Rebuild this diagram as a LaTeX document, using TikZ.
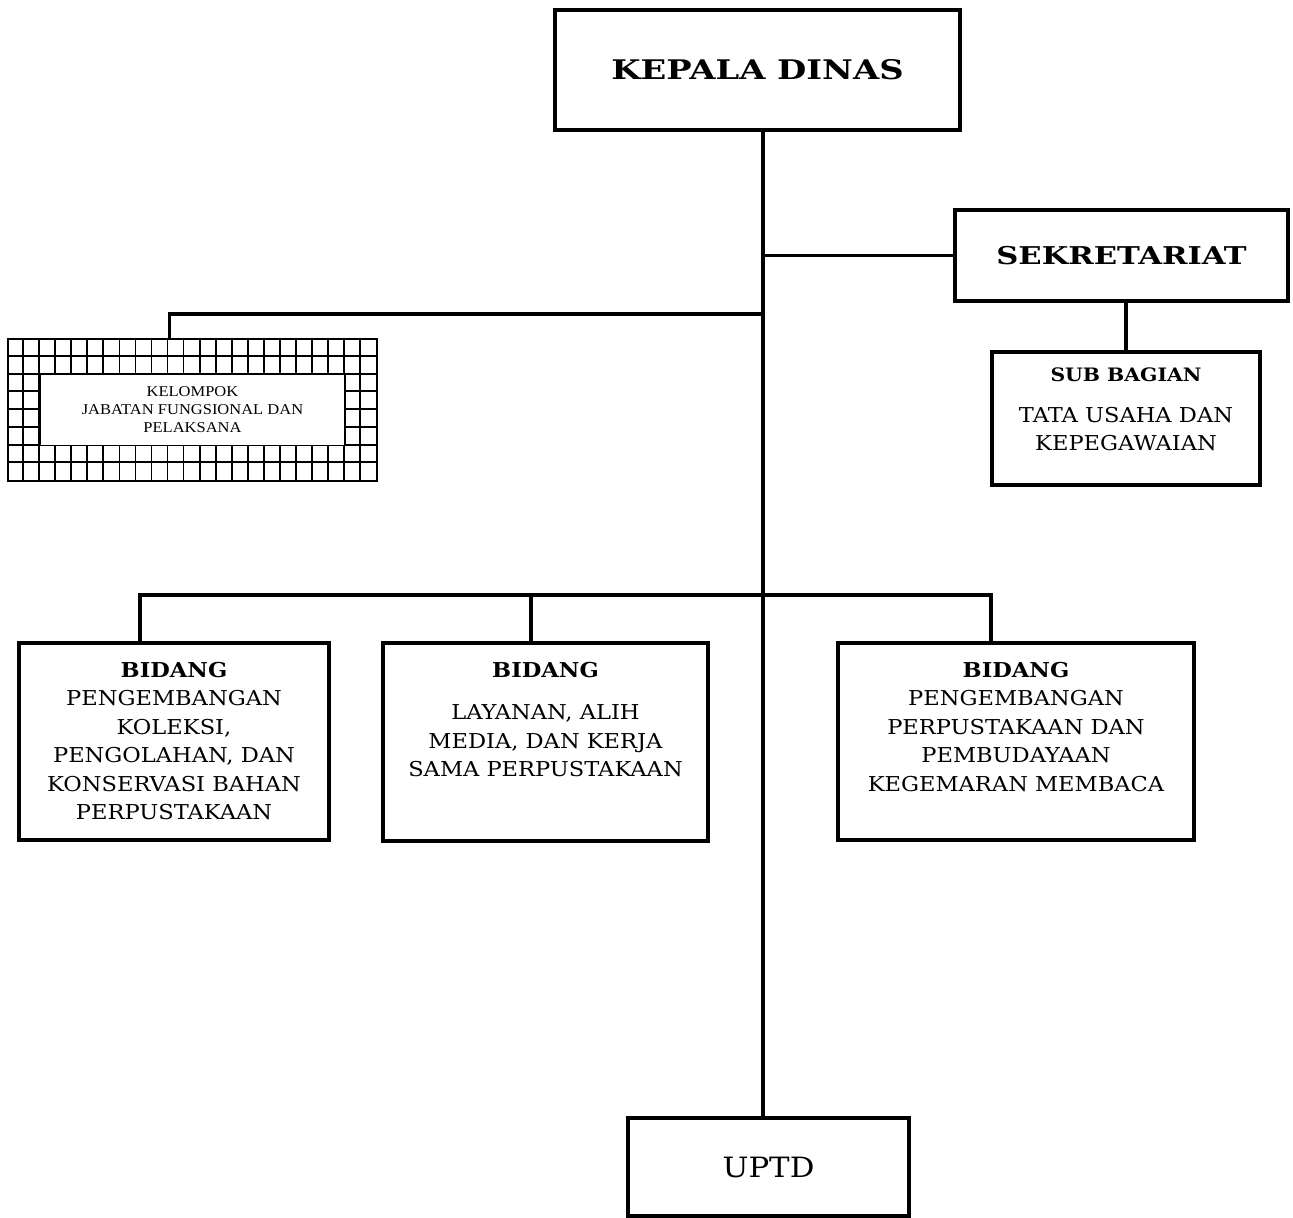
\documentclass[tikz,border=0pt]{standalone}
\usepackage{fontspec}
\setmainfont[FakeStretch=1.1]{DejaVu Serif}
\newfontfamily\headfont[FakeStretch=1.25]{DejaVu Serif}
\newfontfamily\timesfont[FakeStretch=1.1]{Liberation Serif}
\usetikzlibrary{positioning}

\tikzset{
  unitbox/.style={draw, line width=3.5pt, inner sep=0pt, align=center},
  gridline/.style={line width=1.8pt},
  boxtext/.style={inner sep=0pt, align=center, font=\fontsize{20.5}{28.5}\selectfont},
}

\begin{document}
\begin{tikzpicture}[x=1pt, y=-1pt, line width=3.5pt]
\useasboundingbox (0,0) rectangle (1293,1218);

% kotak-kotak
\node [unitbox, minimum width=405pt, minimum height=120pt] (kd) at (757.5,70)
  {\headfont\fontsize{27}{32}\selectfont\bfseries KEPALA DINAS};
\node [unitbox, minimum width=333pt, minimum height=91pt] (sek) at (1121.5,255.5)
  {\headfont\fontsize{24.5}{30}\selectfont\bfseries SEKRETARIAT};
\node [unitbox, minimum width=268pt, minimum height=133pt] (sub) at (1126,418.5) {};
\node [unitbox, minimum width=310pt, minimum height=197pt] (b1) at (174,741.5) {};
\node [unitbox, minimum width=325pt, minimum height=198pt] (b2) at (545.5,742) {};
\node [unitbox, minimum width=356pt, minimum height=197pt] (b3) at (1016,741.5) {};
\node [unitbox, minimum width=281pt, minimum height=98pt] (uptd) at (768.5,1167)
  {\fontsize{28}{34}\selectfont UPTD};

% jabatan fungsional (kotak berpetak)
\node [draw, gridline, minimum width=369pt, minimum height=142pt] (jf) at (192.5,410) {};
\begin{scope}[shift={(jf.north west)}]
\foreach \i in {1,...,22} \draw [gridline] (\i*16.043,0) -- (\i*16.043,142);
\foreach \j in {1,...,7} \draw [gridline] (0,\j*17.75) -- (369,\j*17.75);
\end{scope}
\node [draw, gridline, fill=white, minimum width=304.8pt, minimum height=71pt, align=center,
  font=\timesfont\fontsize{15}{18}\selectfont] (jftxt) at (jf.center)
  {KELOMPOK\\JABATAN FUNGSIONAL DAN\\PELAKSANA};

% teks
\node [boxtext, below=16pt of sub.north] (subtxt)
  {{\fontsize{18.5}{28.5}\selectfont\bfseries SUB BAGIAN}\\[12pt]TATA USAHA DAN\\KEPEGAWAIAN};
\node [boxtext, below=19pt of b1.north] (b1txt)
  {{\bfseries BIDANG}\\PENGEMBANGAN\\KOLEKSI,\\PENGOLAHAN, DAN\\KONSERVASI BAHAN\\PERPUSTAKAAN};
\node [boxtext, below=19pt of b2.north] (b2txt)
  {{\bfseries BIDANG}\\[14pt]LAYANAN, ALIH\\MEDIA, DAN KERJA\\SAMA PERPUSTAKAAN};
\node [boxtext, below=19pt of b3.north] (b3txt)
  {{\bfseries BIDANG}\\PENGEMBANGAN\\PERPUSTAKAAN DAN\\PEMBUDAYAAN\\KEGEMARAN MEMBACA};

% garis
\coordinate (trunk) at (763,0);
\coordinate (bus) at (763,595);
\coordinate (jftop) at ([xshift=-23pt]jf.north);
\coordinate (d1) at ([xshift=-34pt]b1.north);
\coordinate (d2) at ([xshift=-14.5pt]b2.north);
\coordinate (d3) at ([xshift=-25pt]b3.north);
\draw (kd.south -| trunk) -- (uptd.north -| trunk);
\draw (sek.west) -- (sek.west -| trunk);
\draw (sub.north) -- (sub.north |- sek.south);
\draw (trunk |- 0,314) -| (jftop);
\draw (d1) |- (bus);
\draw (d3) |- (bus);
\draw (d2) -- (d2 |- bus);
\end{tikzpicture}
\end{document}
